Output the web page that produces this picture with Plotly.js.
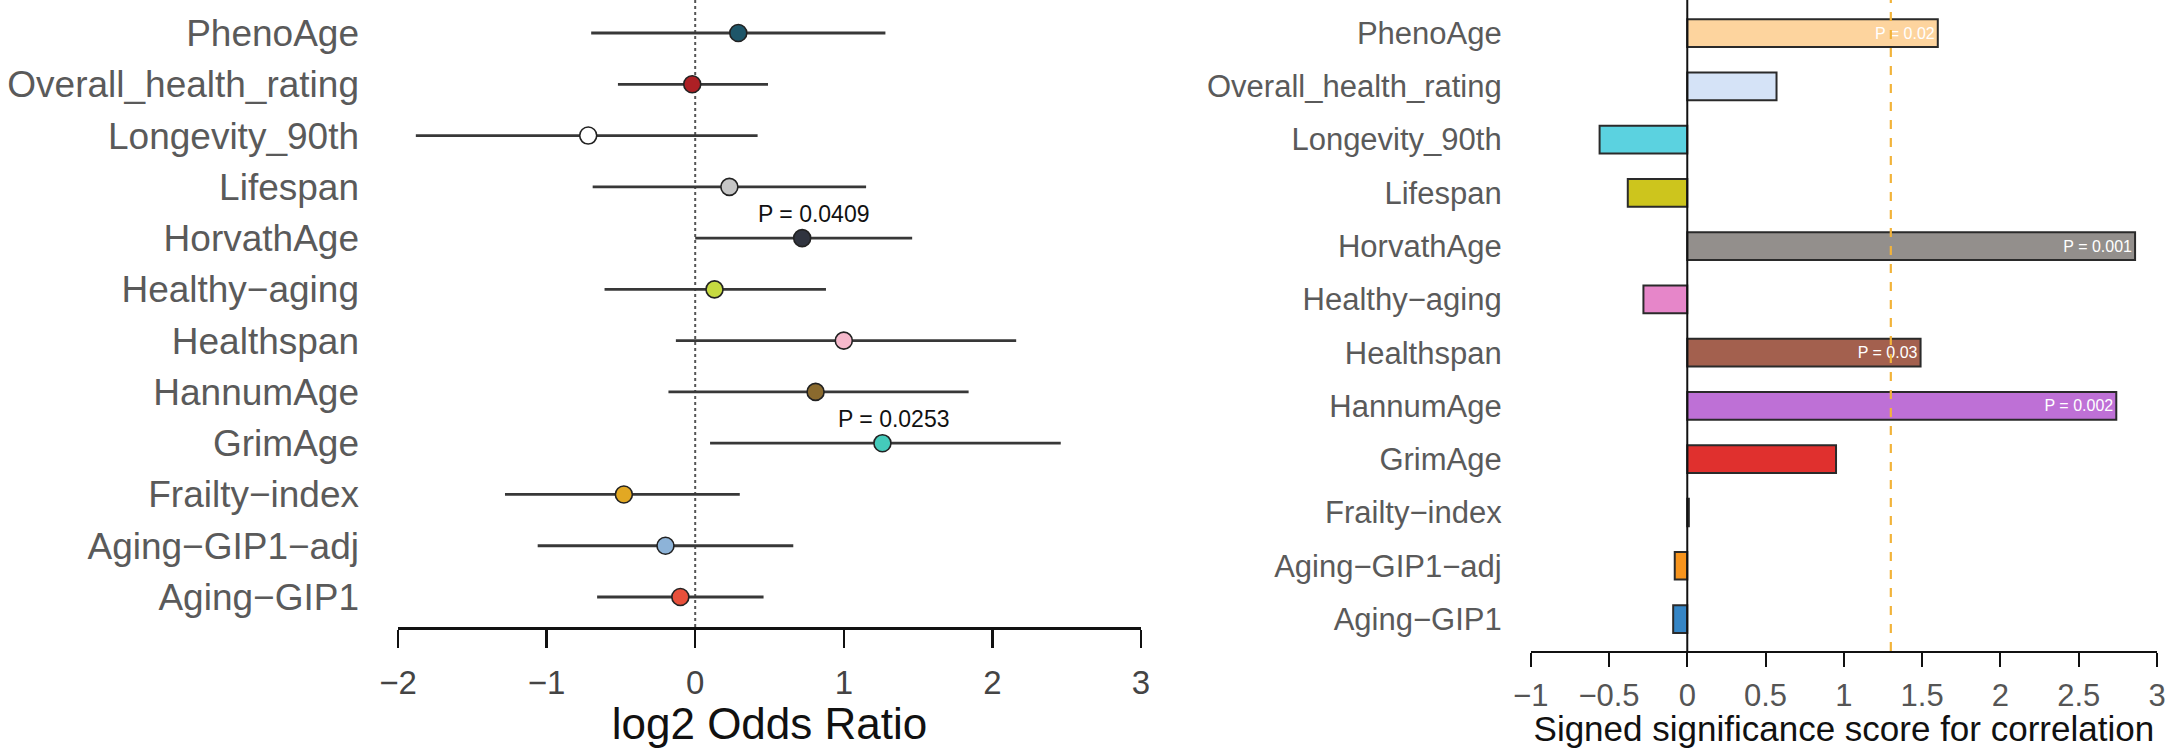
<!DOCTYPE html>
<html>
<head>
<meta charset="utf-8">
<script src="https://cdn.plot.ly/plotly-3.0.1.min.js"></script>
<style>html,body{margin:0;padding:0;background:#fff;}#chart{width:2168px;height:748px;}</style>
</head>
<body>
<div id="chart"></div>
<script>
// Categories, top to bottom as drawn
const categories = ['PhenoAge','Overall_health_rating','Longevity_90th','Lifespan','HorvathAge','Healthy\u2212aging','Healthspan','HannumAge','GrimAge','Frailty\u2212index','Aging\u2212GIP1\u2212adj','Aging\u2212GIP1'];

// Left panel: log2 odds ratio with 95% CI
const logOR  = [0.29, -0.02, -0.72, 0.23, 0.72, 0.13, 1.00, 0.81, 1.26, -0.48, -0.20, -0.10];
const ciLow  = [-0.70, -0.52, -1.88, -0.69, 0.00, -0.61, -0.13, -0.18, 0.10, -1.28, -1.06, -0.66];
const ciHigh = [1.28, 0.49, 0.42, 1.15, 1.46, 0.88, 2.16, 1.84, 2.46, 0.30, 0.66, 0.46];
const leftPLabels = ['', '', '', '', 'P = 0.0409', '', '', '', 'P = 0.0253', '', '', ''];
const pointColors = ['#1e5669','#ad2025','#ffffff','#c6c6c6','#30343f','#c6da40','#f6b9cc','#8a6a2e','#44cbbb','#e2a823','#8db3d8','#e8503b'];

// Right panel: signed significance score
const score = [1.60, 0.57, -0.56, -0.38, 2.86, -0.28, 1.49, 2.74, 0.95, 0.01, -0.08, -0.09];
const rightPLabels = ['P = 0.02', '', '', '', 'P = 0.001', '', 'P = 0.03', 'P = 0.002', '', '', '', ''];
const barColors = ['#fdd49e','#d5e3f7','#5bd2e0','#cdc51d','#938f8c','#e686c9','#a3604e','#be70d6','#e0302e','#222222','#f7941d','#3585c5'];
const sigThreshold = 1.3;

const leftTicks = [-2, -1, 0, 1, 2, 3];
const rightTicks = [-1, -0.5, 0, 0.5, 1, 1.5, 2, 2.5, 3];

const n = categories.length;
const ypos = categories.map((_, i) => n - 1 - i);

const FONT = 'Liberation Sans, Arial, Helvetica, sans-serif';

const forest = {
  type: 'scatter', mode: 'markers', xaxis: 'x', yaxis: 'y',
  x: logOR, y: ypos,
  error_x: {
    type: 'data', symmetric: false,
    array: ciHigh.map((h, i) => h - logOR[i]),
    arrayminus: logOR.map((v, i) => v - ciLow[i]),
    color: '#383838', thickness: 2.8, width: 0
  },
  marker: {size: 17, color: pointColors, line: {color: '#222222', width: 1.6}},
  hoverinfo: 'skip', cliponaxis: false
};

const bars = {
  type: 'bar', orientation: 'h', xaxis: 'x2', yaxis: 'y2',
  x: score, y: ypos, width: 0.52,
  marker: {color: barColors, line: {color: '#2a2a2a', width: 2}},
  text: rightPLabels, textposition: 'inside', insidetextanchor: 'end',
  textfont: {color: '#ffffff', size: 16, family: FONT},
  textangle: 0, constraintext: 'none', cliponaxis: false, hoverinfo: 'skip'
};

const annotations = [];
leftPLabels.forEach((t, i) => {
  if (t) annotations.push({
    xref: 'x', yref: 'y', x: logOR[i], y: ypos[i], text: t, showarrow: false,
    xshift: 12, yshift: 24, font: {size: 23, color: '#111', family: FONT}
  });
});

const layout = {
  width: 2168, height: 748,
  margin: {l: 0, r: 0, t: 0, b: 0},
  paper_bgcolor: '#fff', plot_bgcolor: '#fff',
  showlegend: false,
  font: {family: FONT},
  xaxis: {
    domain: [398/2168, 1141/2168], range: [-2, 3], anchor: 'y',
    tickvals: leftTicks, ticks: 'outside', ticklen: 18, tickwidth: 2.5, tickcolor: '#111',
    showline: true, linewidth: 3, linecolor: '#111', showgrid: false, zeroline: false,
    tickfont: {size: 33, color: '#444'}, ticklabelstandoff: 6,
    title: {text: 'log2 Odds Ratio', font: {size: 44, color: '#111'}, standoff: 6}
  },
  yaxis: {
    domain: [121/748, 1], range: [-0.585, 11.644], anchor: 'x',
    tickvals: ypos, ticktext: categories, ticks: '', showline: false, showgrid: false, zeroline: false,
    tickfont: {size: 37, color: '#5a5a5a'}, ticklabelstandoff: 38
  },
  xaxis2: {
    domain: [1530.7/2168, 2157/2168], range: [-1, 3], anchor: 'y2',
    tickvals: rightTicks, ticks: 'outside', ticklen: 14, tickwidth: 2, tickcolor: '#111',
    showline: true, linewidth: 2, linecolor: '#111', showgrid: false, zeroline: false,
    tickfont: {size: 31, color: '#555'}, ticklabelstandoff: 2,
    title: {text: 'Signed significance score for correlation', font: {size: 35, color: '#111'}, standoff: 4}
  },
  yaxis2: {
    domain: [97/748, 1], range: [-0.60, 11.62], anchor: 'x2',
    tickvals: ypos, ticktext: categories, ticks: '', showline: false, showgrid: false, zeroline: false,
    tickfont: {size: 31, color: '#5a5a5a'}, ticklabelstandoff: 28
  },
  shapes: [
    {type: 'line', xref: 'x', yref: 'y', x0: 0, x1: 0, y0: -0.585, y1: 11.644,
     line: {color: '#555', width: 2, dash: 'dot'}, layer: 'below'},
    {type: 'line', xref: 'x2', yref: 'y2', x0: 0, x1: 0, y0: -0.60, y1: 11.62,
     line: {color: '#111', width: 2}, layer: 'above'},
    {type: 'line', xref: 'x2', yref: 'y2', x0: sigThreshold, x1: sigThreshold, y0: -0.60, y1: 11.62,
     line: {color: '#f2b33a', width: 2.2, dash: 'dash'}, layer: 'above'}
  ],
  annotations: annotations
};

Plotly.newPlot('chart', [forest, bars], layout, {staticPlot: true, displayModeBar: false});
</script>
</body>
</html>
